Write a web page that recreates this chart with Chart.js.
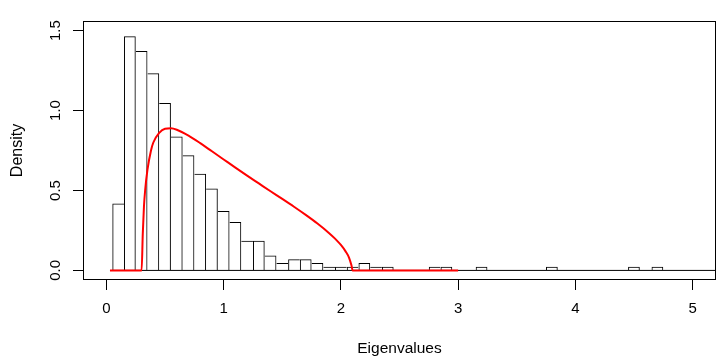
<!DOCTYPE html>
<html>
<head>
<meta charset="utf-8">
<script src="https://cdn.jsdelivr.net/npm/chart.js@4/dist/chart.umd.min.js"></script>
<style>
html,body{margin:0;padding:0;background:#ffffff;}
canvas{display:block;}
</style>
</head>
<body>
<canvas id="c" width="726" height="363"></canvas>
<script>
// Histogram bin midpoints (bin width 0.1) and densities
const histMids = [0.1,0.2,0.3,0.4,0.5,0.6,0.7,0.8,0.9,1.0,
                  1.1,1.2,1.3,1.4,1.5,1.6,1.7,1.8,1.9,2.0,
                  2.1,2.2,2.3,2.4,2.5,2.6,2.7,2.8,2.9,3.0,
                  3.1,3.2,3.3,3.4,3.5,3.6,3.7,3.8,3.9,4.0,
                  4.1,4.2,4.3,4.4,4.5,4.6,4.7,4.8,4.9,5.0,5.1,5.2];
const histDensity = [0.419,1.465,1.372,1.233,1.047,0.837,0.721,0.605,0.512,0.372,
                     0.302,0.186,0.186,0.093,0.047,0.070,0.070,0.047,0.023,0.023,
                     0.023,0.047,0.023,0.023,0,0,0,0.023,0.023,0,
                     0,0.023,0,0,0,0,0,0.023,0,0,
                     0,0,0,0,0.023,0,0.023,0,0,0,0,0];

// Red theoretical density curve
const curveX = [0.03,0.30,0.31,0.32,0.33,0.35,0.38,0.40,0.45,0.50,0.55,0.60,0.70,0.80,0.90,1.00,
                1.10,1.20,1.30,1.40,1.50,1.60,1.70,1.80,1.90,1.95,2.00,2.04,2.07,2.09,2.10,3.00];
const curveY = [0,0,0.23,0.40,0.50,0.63,0.75,0.80,0.86,0.886,0.889,0.88,0.843,0.796,0.745,0.694,
                0.643,0.593,0.544,0.495,0.447,0.398,0.347,0.293,0.233,0.199,0.159,0.119,0.079,0.032,0,0];

// Zero line under the histogram
const baselineX = [0.05, 5.25];
const baselineY = [0, 0];

const xTicks = [0,1,2,3,4,5];
const yTicks = [0,0.5,1.0,1.5];
const xTitle = 'Eigenvalues';
const yTitle = 'Density';

const FONT = "'Liberation Sans', Arial, Helvetica, sans-serif";

// each shared bar edge is drawn once, by the taller of the two neighbours
function barBorder(ctx) {
  const i = ctx.dataIndex;
  const h = histDensity;
  const prev = i > 0 ? h[i - 1] : 0;
  const next = i < h.length - 1 ? h[i + 1] : 0;
  return {
    top: 1,
    bottom: 0,
    left: (h[i] > 0 && h[i] >= prev) ? 1 : 0,
    right: (h[i] > 0 && h[i] > next) ? 1 : 0
  };
}

const boxPlugin = {
  id: 'box',
  afterDraw(chart) {
    const a = chart.chartArea, ctx = chart.ctx;
    ctx.save();
    ctx.strokeStyle = '#000';
    ctx.lineWidth = 1;
    const l = Math.round(a.left) + 0.5, t = Math.round(a.top) + 0.5;
    const r = Math.round(a.right) - 0.5, b = Math.round(a.bottom) - 0.5;
    ctx.strokeRect(l, t, r - l, b - t);
    ctx.restore();
  }
};

new Chart(document.getElementById('c'), {
  type: 'bar',
  data: {
    datasets: [
      {
        type: 'line',
        label: 'curve',
        data: curveX.map((x, i) => ({x: x, y: curveY[i]})),
        borderColor: '#ff0000',
        borderWidth: 2,
        pointRadius: 0,
        fill: false,
        cubicInterpolationMode: 'monotone',
        order: 0
      },
      {
        type: 'line',
        label: 'baseline',
        data: baselineX.map((x, i) => ({x: x, y: baselineY[i]})),
        borderColor: '#000000',
        borderWidth: 1,
        pointRadius: 0,
        fill: false,
        order: 1
      },
      {
        type: 'bar',
        label: 'hist',
        data: histMids.map((m, i) => ({x: m, y: histDensity[i]})),
        backgroundColor: 'rgba(255,255,255,0)',
        borderColor: '#000000',
        borderWidth: barBorder,
        borderSkipped: 'start',
        inflateAmount: 0,
        barPercentage: 1.0,
        categoryPercentage: 1.0,
        order: 2
      }
    ]
  },
  options: {
    responsive: false,
    animation: false,
    devicePixelRatio: 1,
    layout: { padding: { top: 21, right: 10, left: 0, bottom: 0 } },
    plugins: { legend: { display: false }, tooltip: { enabled: false } },
    scales: {
      x: {
        type: 'linear',
        min: -0.2,
        max: 5.2,
        offset: false,
        afterBuildTicks: (s) => { s.ticks = xTicks.map(v => ({value: v})); },
        afterFit: (s) => { s.height = 83; },
        grid: { display: true, drawOnChartArea: false, drawTicks: true, tickLength: 10, tickColor: '#000', offset: false },
        border: { display: false },
        ticks: {
          color: '#000',
          font: { family: FONT, size: 15 },
          padding: 10,
          maxRotation: 0,
          minRotation: 0,
          autoSkip: false,
          callback: (v) => String(v)
        },
        title: {
          display: true,
          text: xTitle,
          color: '#000',
          font: { family: FONT, size: 15.5 },
          padding: { top: 0, bottom: 5 }
        }
      },
      y: {
        type: 'linear',
        min: -0.06,
        max: 1.56,
        afterBuildTicks: (s) => { s.ticks = yTicks.map(v => ({value: v})); },
        afterFit: (s) => { s.width = 83; },
        grid: { display: true, drawOnChartArea: false, drawTicks: true, tickLength: 10, tickColor: '#000' },
        border: { display: false },
        ticks: {
          color: '#000',
          font: { family: FONT, size: 15 },
          padding: 7,
          minRotation: 90,
          maxRotation: 90,
          crossAlign: 'center',
          autoSkip: false,
          callback: (v) => Number(v).toFixed(1)
        },
        title: {
          display: true,
          text: yTitle,
          color: '#000',
          font: { family: FONT, size: 16 },
          padding: { top: 8, bottom: 0 }
        }
      }
    }
  },
  plugins: [boxPlugin]
});
</script>
</body>
</html>
